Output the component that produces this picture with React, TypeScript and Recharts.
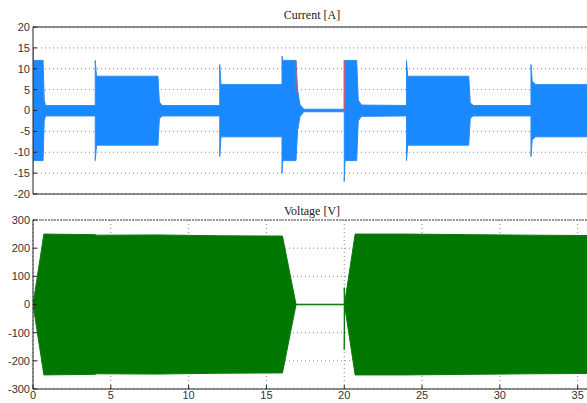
import React from 'react'
import { Area, CartesianGrid, ComposedChart, Line, XAxis, YAxis } from 'recharts'

// envelope of the current waveform (time in s, lower / upper in A)
const currentTime = [0, 0, 0.65, 0.72, 0.8, 4.0, 4.0, 4.08, 8.03, 8.12, 8.3, 12.0, 12.0, 12.08, 16.0, 16.0, 16.05, 16.9, 17.0, 17.15, 17.4, 20.0, 20.0, 20.05, 20.8, 20.9, 21.1, 24.0, 24.0, 24.08, 28.0, 28.1, 28.3, 32.0, 32.0, 32.08, 32.3, 35.6]
const currentUpper = [15, 12, 12, 2.5, 1.2, 1.2, 12, 8.2, 8.2, 2, 1.2, 1.2, 11, 6.2, 6.2, 13, 12, 12, 5, 1.5, 0.3, 0.3, 12, 12, 12, 2.5, 1.3, 1.2, 12, 8.2, 8.2, 1.8, 1.2, 1.2, 11, 7, 6.2, 6.2]
const currentLower = [-15, -12, -12, -2.5, -1.3, -1.3, -12, -8.3, -8.3, -2, -1.3, -1.3, -11, -6.3, -6.3, -15, -12, -12, -5, -1.5, -0.3, -0.3, -17, -12, -12, -2.5, -1.4, -1.3, -12, -8.3, -8.3, -1.8, -1.3, -1.3, -11, -7, -6.3, -6.3]

// short red traces visible on top of the blue current (time, value; null = break)
const redTime = [0, 0, 0, 0.68, 0.68, 0.68, 16.9, 16.9, 16.9, 20.0, 20.0, 20.0, 28.05, 28.05]
const redValue = [2, 15, null, 5, 2, null, 12, 4, null, 12, 0, null, 3, 1.5]

// envelope of the voltage waveform (time in s, lower / upper in V)
const voltageTime = [0, 0.7, 4.0, 4.05, 8.0, 12.0, 16.03, 16.9, 20.0, 20.0, 20.03, 20.7, 24.0, 28.0, 32.0, 35.6]
const voltageUpper = [0, 250, 248, 246, 247, 244, 243, 1, 1, 60, 5, 250, 250, 248, 246, 245]
const voltageLower = [0, -250, -248, -246, -247, -244, -243, -1, -1, -160, -5, -250, -250, -248, -246, -245]

const xTicks = [0, 5, 10, 15, 20, 25, 30, 35]
const currentTicks = [-20, -15, -10, -5, 0, 5, 10, 15, 20]
const voltageTicks = [-300, -200, -100, 0, 100, 200, 300]

const currentData = currentTime.map((t, i) => ({ t, cur: [currentLower[i], currentUpper[i]] }))
const redData = redTime.map((t, i) => ({ t, red: redValue[i] }))
const voltageData = voltageTime.map((t, i) => ({ t, volt: [voltageLower[i], voltageUpper[i]] }))

const tickFont = { fontFamily: 'Liberation Sans, Arial, sans-serif', fontSize: 11, fill: '#333' }
const titleStyle: React.CSSProperties = {
  position: 'absolute',
  fontFamily: 'Liberation Serif, serif',
  fontSize: 12,
  color: '#1a1a1a',
  transform: 'translateX(-50%)',
  whiteSpace: 'nowrap',
}

const App = () => {
  return (
    <div style={{ position: 'relative', width: 587, height: 403, background: '#fff', overflow: 'hidden' }}>
      <style>{`body { margin: 0; }`}</style>

      <div style={{ ...titleStyle, left: 312, top: 8 }}>Current [A]</div>
      <div style={{ position: 'absolute', left: 0, top: 0 }}>
        <ComposedChart width={587} height={200} data={currentData} margin={{ top: 26, right: 0, left: 0, bottom: 5 }}>
          <CartesianGrid stroke="#888" strokeDasharray="1 3" horizontalValues={currentTicks} verticalValues={xTicks} />
          <XAxis dataKey="t" type="number" domain={[0, 35.6]} allowDataOverflow ticks={xTicks} height={1}
            tick={false} tickSize={-4} stroke="#222" />
          <XAxis xAxisId="top" dataKey="t" type="number" orientation="top" domain={[0, 35.6]} allowDataOverflow
            ticks={xTicks} height={1} tick={false} tickSize={-4} stroke="#222" />
          <YAxis type="number" domain={[-20, 20]} ticks={currentTicks} width={33} tickSize={-4} tickMargin={7}
            tick={tickFont} stroke="#222" interval={0} />
          <Area dataKey="cur" type="linear" stroke="#2b8cf0" strokeWidth={1} fill="#1a88ff" fillOpacity={1}
            dot={false} activeDot={false} isAnimationActive={false} />
          <Line data={redData} dataKey="red" type="linear" stroke="#f05050" strokeWidth={1} dot={false}
            activeDot={false} isAnimationActive={false} />
        </ComposedChart>
      </div>

      <div style={{ ...titleStyle, left: 312, top: 204 }}>Voltage [V]</div>
      <div style={{ position: 'absolute', left: 0, top: 200 }}>
        <ComposedChart width={587} height={203} data={voltageData} margin={{ top: 19, right: 0, left: 0, bottom: 0 }}>
          <CartesianGrid stroke="#888" strokeDasharray="1 3" horizontalValues={voltageTicks} verticalValues={xTicks} />
          <XAxis dataKey="t" type="number" domain={[0, 35.6]} allowDataOverflow ticks={xTicks} height={14}
            tickSize={-4} tickMargin={6} tick={tickFont} stroke="#222" interval={0} />
          <XAxis xAxisId="top" dataKey="t" type="number" orientation="top" domain={[0, 35.6]} allowDataOverflow
            ticks={xTicks} height={1} tick={false} tickSize={-4} stroke="#444" strokeDasharray="2 1" />
          <YAxis type="number" domain={[-300, 300]} ticks={voltageTicks} width={33} tickSize={-4} tickMargin={7}
            tick={tickFont} stroke="#222" interval={0} />
          <Area dataKey="volt" type="linear" stroke="#0a7a0a" strokeWidth={1} fill="#007800" fillOpacity={1}
            dot={false} activeDot={false} isAnimationActive={false} />
        </ComposedChart>
      </div>
    </div>
  )
}

export default App
